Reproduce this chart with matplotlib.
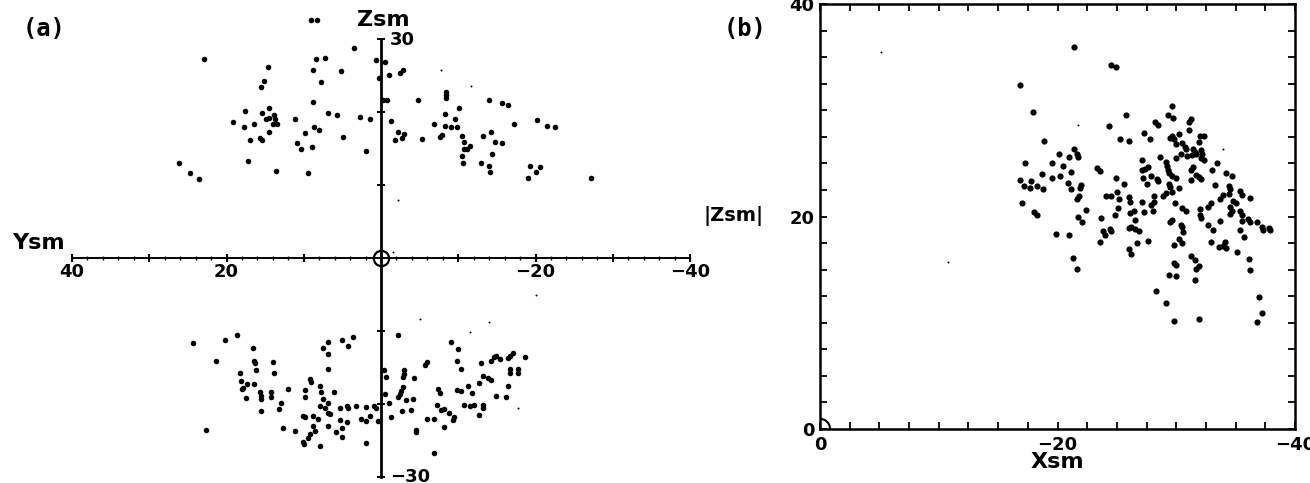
import numpy as np
import matplotlib
matplotlib.use('Agg')
import matplotlib.pyplot as plt
from matplotlib.patches import Ellipse

# ---- panel (a): Ysm / Zsm cross-section ----
upper_y = [22.9, 14.6, 15.1, 15.5, 8.4, 7.3, 8.8, 7.8, 5.2, 3.5, 0.7, -0.5, 0.3, -1.0, 8.8,
           17.6, 15.4, 14.5, 13.8, 13.7, 14.9, 14.5, 14.0, 13.5, 19.2, 17.7, 16.4, 14.5, 17.0,
           15.7, 15.4, 11.1, 6.9, 5.7, 2.7, 1.4, 8.7, 8.0, 9.8, 10.9, 10.3, 8.9, 4.9, 1.9, 26.1,
           24.7, 23.5, 17.2, 13.6, 9.5, 9.1, 8.3,
           -2.4, -2.9, -0.2, -0.8, -4.8, -8.4, -8.4, -8.4, -10.1, -14.0, -15.7, -16.4, -1.3,
           -8.3, -9.6, -6.9, -8.3, -9.0, -9.8, -2.2, -3.0, -2.7, -1.8, -5.3, -7.6, -7.9, -10.5,
           -10.8, -10.8, -11.1, -11.5, -13.2, -14.3, -14.8, -15.6, -14.4, -10.5, -10.6, -13.0,
           -14.0, -14.1, -17.2, -20.2, -21.5, -22.5, -19.3, -20.6, -20.0, -19.0, -27.2]
upper_z = [27.2, 26.1, 24.3, 23.4, 27.2, 27.4, 25.8, 24.1, 25.6, 28.8, 27.1, 26.9, 24.6, 25.0, 21.4,
           20.2, 19.8, 20.6, 19.6, 19.0, 19.0, 19.2, 18.3, 18.3, 18.6, 17.9, 18.3, 17.2, 16.2,
           16.5, 16.2, 19.1, 19.9, 19.6, 19.3, 19.0, 17.9, 17.6, 17.1, 15.8, 15.0, 15.2, 16.6, 14.7, 13.0,
           11.7, 10.8, 13.3, 11.9, 11.6, 32.6, 32.6,
           25.4, 25.8, 21.7, 21.6, 21.7, 22.8, 22.3, 21.9, 20.6, 21.7, 21.3, 21.0, 18.8,
           19.7, 19.0, 18.4, 18.1, 18.0, 17.9, 17.3, 17.0, 16.5, 16.2, 16.3, 16.6, 16.9, 16.7,
           15.9, 15.0, 14.9, 15.3, 16.7, 17.2, 15.9, 15.8, 14.3, 14.0, 13.0, 13.0,
           12.6, 11.8, 18.4, 18.9, 18.1, 17.9, 12.6, 12.4, 11.8, 10.9, 11.0]

lower_y = [24.4, 20.2, 18.6, 16.6, 21.3, 16.5, 16.3, 14.0, 16.2, 13.8, 18.3, 18.1, 17.4, 18.0, 17.8,
           16.4, 15.7, 15.5, 15.5, 14.3, 14.2, 17.5, 15.5, 13.0, 13.2, 12.0, 9.2, 9.0, 9.8, 9.8,
           7.9, 7.8, 7.5, 6.1, 7.5, 6.8, 6.8, 5.1, 3.6, 4.3, 6.8, 7.9, 7.3, 6.9, 6.9, 6.6, 5.3,
           4.4, 4.3, 3.2, 1.9, 0.9, 0.6, 10.1, 9.9, 8.8, 8.2, 5.3, 4.4, 2.6, 2.0, 1.4, 8.8, 6.9,
           5.0, 5.8, 5.1, 8.5, 9.2, 9.5, 10.1, 10.0, 7.9, 11.1, 12.7, 22.7, 1.9, 0.4, -0.4, -0.6,
           -0.5, -1.1, -1.3,
           -2.2, -3.0, -3.0, -2.8, -4.3, -5.7, -6.0, -9.1, -10.0, -9.9, -10.4, -13.0, -14.6,
           -14.9, -15.4, -14.3, -16.7, -17.1, -16.5, -18.7, -16.7, -16.7, -17.7, -17.7, -13.2,
           -13.9, -14.2, -12.7, -16.5, -16.2, -14.9, -2.8, -2.6, -2.4, -2.2, -3.3, -4.1, -2.7,
           -3.9, -4.5, -4.5, -5.9, -6.9, -7.4, -7.6, -7.3, -7.8, -8.1, -8.8, -8.1, -9.3, -9.5,
           -9.8, -10.3, -11.2, -11.8, -10.7, -11.5, -12.0, -13.2, -13.2, -12.7, -6.8]
lower_z = [-11.6, -11.2, -10.6, -12.3, -14.1, -14.1, -14.4, -14.3, -15.3, -15.8, -15.8, -16.9, -17.3, -18.0, -17.8,
           -17.3, -18.3, -18.9, -19.3, -18.3, -19.0, -19.2, -21.0, -19.9, -20.7, -18.0, -16.6, -17.0, -18.1, -19.1,
           -17.6, -18.4, -19.3, -18.3, -12.3, -11.5, -13.2, -11.2, -10.8, -12.1, -15.2, -20.3, -20.6, -19.9, -21.2, -21.4, -20.5,
           -20.3, -20.5, -20.3, -20.4, -20.3, -20.5, -21.6, -21.8, -21.7, -22.0, -22.2, -22.4, -22.0, -22.3, -21.7, -23.0, -23.0,
           -23.3, -23.8, -24.5, -23.7, -24.1, -24.6, -25.2, -25.5, -25.8, -23.7, -23.3, -23.5, -25.4, -22.3, -15.4, -16.3,
           -18.6, -19.8, -21.8,
           -10.6, -15.4, -15.9, -16.3, -16.4, -14.7, -14.3, -11.5, -12.5, -14.1, -15.2, -14.4, -13.6,
           -13.4, -13.9, -14.1, -13.4, -13.0, -13.7, -13.6, -15.2, -15.8, -15.2, -15.7, -16.2,
           -16.5, -16.7, -17.1, -17.5, -19.0, -18.9, -17.7, -18.2, -18.6, -19.1, -19.4, -19.3, -20.9,
           -20.8, -23.6, -23.9, -22.1, -22.1, -18.0, -18.5, -20.2, -20.8, -20.7, -21.3, -23.2, -22.2, -21.8,
           -18.1, -18.2, -17.6, -18.5, -20.1, -20.3, -20.2, -20.2, -20.6, -21.5, -26.7]

# faint specks in panel (a)
faint_a_y = [-7.8, -11.6, -2.2, -5.0, -14.0, -11.5, -20.0, -17.7, -1.6]
faint_a_z = [25.7, 23.6, 7.9, -8.4, -8.8, -10.2, -5.1, -20.5, 0.8]

# ---- panel (b): Xsm / |Zsm| ----
b_x = [-16.8, -17.9, -18.9, -20.1, -21.4, -21.6, -21.7, -21.0, -17.3, -19.5, -20.5, -21.1, -18.7, -19.5,
       -20.2, -16.8, -17.2, -17.8, -17.7, -18.3, -18.8, -20.9, -21.1, -21.8,
       -17.0, -18.0, -18.3, -21.7, -21.6, -19.9, -21.0, -21.3, -21.6,
       -24.5, -24.9, -25.8, -24.3, -29.6, -29.3, -29.7, -28.2, -28.5, -31.2, -31.1, -27.3, -27.8,
       -25.3, -26.0, -29.6, -29.5, -29.8, -30.2, -31.1, -32.0, -32.3, -30.0, -30.5, -30.7, -30.8,
       -31.9, -31.4, -31.6, -31.7, -31.3, -30.9, -32.1, -32.2, -32.1, -32.3, -28.6, -30.0, -30.4,
       -27.1, -29.1, -29.2, -27.6, -27.4, -27.1, -23.3, -23.6, -29.3, -29.4, -29.6, -31.4, -31.2,
       -30.0, -31.7, -31.9, -32.1, -31.2, -27.9, -27.2, -28.4, -28.5, -24.9, -25.6, -27.5, -29.4,
       -29.5, -30.2, -22.0, -21.9, -25.0, -24.1, -24.5, -26.0, -28.1, -29.1, -28.9, -29.6,
       -25.2, -26.1, -27.1, -28.1, -27.9, -29.9, -30.5, -30.8, -32.0, -32.0, -32.1, -22.4, -22.1,
       -25.1, -24.8, -23.7, -26.1, -26.4, -27.3, -28.0, -26.5, -29.6, -29.5, -30.4, -30.5, -30.6,
       -26.0, -26.2, -26.5, -26.9, -24.4, -24.5, -23.8, -24.0, -23.6, -26.7, -27.6, -30.2, -30.5,
       -29.8, -26.0, -26.2, -31.2, -31.6, -29.8, -30.0, -31.7, -31.9, -29.4, -30.0, -31.6, -28.3,
       -29.1, -29.8, -31.9,
       -33.0, -33.4, -34.2, -34.7, -34.4, -34.5, -34.4, -33.7, -33.9, -35.4, -35.5, -34.8, -35.0,
       -36.2, -34.5, -34.7, -34.5, -35.4, -35.5, -35.5, -36.0, -36.2, -36.8, -37.2, -37.3, -37.8,
       -37.9, -35.4, -35.7, -33.7, -32.7, -32.9, -34.2, -35.1, -36.1, -36.2, -37.0, -37.2, -36.8,
       -33.6, -33.9, -34.1, -32.9, -33.1, -33.3, -32.7, -21.4]
b_z = [32.4, 29.8, 27.1, 25.9, 26.4, 25.9, 25.6, 25.6, 25.0, 25.0, 24.8, 24.2, 24.0, 23.6,
       23.8, 23.4, 22.9, 23.3, 22.7, 22.9, 22.6, 23.2, 22.6, 21.9,
       21.3, 20.4, 20.1, 20.0, 21.6, 18.4, 18.3, 16.1, 15.1,
       34.3, 34.1, 29.6, 28.5, 30.4, 29.6, 29.3, 28.9, 28.6, 29.2, 28.9, 27.9, 27.3,
       27.3, 27.1, 27.6, 27.4, 27.3, 27.8, 28.1, 27.6, 27.6, 26.8, 26.9, 26.5, 26.4,
       27.0, 26.4, 26.1, 25.9, 25.8, 25.7, 26.3, 25.9, 25.5, 25.3, 25.6, 25.5, 25.9,
       25.3, 25.1, 24.8, 24.7, 24.5, 24.4, 24.6, 24.3, 24.4, 24.1, 23.8, 24.7, 24.4,
       23.6, 23.9, 23.7, 23.5, 23.4, 23.8, 23.6, 23.5, 23.3, 23.6, 23.1, 23.1, 23.1,
       22.8, 22.7, 23.0, 22.7, 22.3, 21.9, 21.9, 21.8, 21.9, 22.2, 21.9, 22.3,
       21.6, 21.4, 21.4, 21.4, 21.1, 21.3, 20.8, 20.5, 20.7, 20.1, 19.9, 20.6, 19.5,
       20.8, 20.1, 19.9, 20.3, 20.5, 20.4, 20.5, 19.7, 19.7, 19.5, 19.2, 19.0, 18.5,
       18.9, 19.0, 18.8, 18.6, 18.8, 18.6, 18.6, 18.3, 17.6, 17.5, 17.7, 17.9, 17.5,
       17.3, 16.9, 16.5, 16.3, 15.9, 15.6, 15.4, 15.1, 15.3, 14.5, 14.4, 14.0, 13.0,
       11.9, 10.2, 10.4,
       24.4, 25.0, 24.1, 23.8, 22.9, 22.6, 22.1, 21.6, 22.0, 22.4, 22.0, 21.5, 21.3,
       21.7, 20.9, 20.5, 20.2, 20.5, 20.1, 19.6, 19.8, 19.5, 19.5, 19.0, 18.7, 18.9,
       18.7, 18.7, 18.1, 19.6, 20.9, 21.3, 17.0, 16.7, 16.0, 15.0, 12.4, 10.9, 10.1,
       17.1, 17.2, 17.6, 17.6, 18.7, 23.0, 19.2, 36.0]

faint_b_x = [-5.1, -21.7, -10.8, -33.9]
faint_b_z = [35.5, 28.6, 15.7, 26.4]


def draw_panel_a(fig):
    # axes box spans the drawn Ysm (40..-40) and Zsm (-30..30) axis lines
    ax = fig.add_axes([72 / 1310, 6 / 483, 618 / 1310, 438 / 483])
    ax.set_xlim(40, -40)
    ax.set_ylim(-30, 30)
    ax.axis('off')

    # cross-shaped axes
    ax.plot([40, -40], [0, 0], color='black', lw=1.4, clip_on=False)
    ax.plot([0, 0], [-30, 30], color='black', lw=2.0, clip_on=False)

    # tick marks on the Ysm axis (every 2, bigger every 10)
    minor = np.arange(-40, 41, 2)
    major = np.arange(-40, 41, 10)
    ax.plot(minor, np.zeros_like(minor), ls='none', marker='|', ms=3.5, mew=1.0,
            color='black', clip_on=False)
    ax.plot(major, np.zeros_like(major), ls='none', marker='|', ms=6, mew=1.4,
            color='black', clip_on=False)
    # tick marks on the Zsm axis
    zt = np.array([-30, -20, -10, 10, 20, 30])
    ax.plot(np.zeros_like(zt), zt, ls='none', marker='_', ms=6, mew=1.4,
            color='black', clip_on=False)

    # origin marker (circle with the cross through it)
    ax.plot([0], [0], marker='o', ms=11, mfc='none', mec='black', mew=1.6)

    # data
    ax.scatter(upper_y, upper_z, s=16, color='black', linewidths=0, clip_on=False, zorder=3)
    ax.scatter(lower_y, lower_z, s=16, color='black', linewidths=0, clip_on=False, zorder=3)
    ax.scatter(faint_a_y, faint_a_z, s=2, color='black', linewidths=0, zorder=3)

    # labels
    lab = dict(fontweight='bold', color='black', clip_on=False)
    ax.text(-0.3, 32.6, 'Zsm', fontsize=16, ha='center', va='center', **lab)
    ax.text(-1.2, 29.9, '30', fontsize=13, ha='left', va='center', **lab)
    ax.text(-1.2, -30.0, '\u221230', fontsize=13, ha='left', va='center', **lab)
    ax.text(44.3, 2.0, 'Ysm', fontsize=16, ha='center', va='center', **lab)
    for val, txt in zip([40, 20, -20, -40], ['40', '20', '\u221220', '\u221240']):
        ax.text(val, -1.9, txt, fontsize=13, ha='center', va='center', **lab)


def draw_panel_b(fig):
    ax = fig.add_axes([820 / 1310, 54 / 483, 475 / 1310, 425 / 483])
    ax.set_xlim(0, -40)
    ax.set_ylim(0, 40)
    for sp in ax.spines.values():
        sp.set_linewidth(1.8)

    ax.set_xticks([0, -20, -40])
    ax.set_xticklabels(['0', '\u221220', '\u221240'])
    ax.set_yticks([0, 20, 40])
    ax.set_yticklabels(['0', '20', '40'])
    ax.set_xticks(np.arange(0, -40.1, -2.5), minor=True)
    ax.set_yticks(np.arange(0, 40.1, 2.5), minor=True)
    ax.tick_params(which='both', direction='in', top=True, right=True,
                   length=5, width=1.3)
    ax.tick_params(axis='x', which='major', pad=5, labelsize=13)
    ax.tick_params(axis='y', which='major', pad=4, labelsize=13)
    for t in ax.get_xticklabels() + ax.get_yticklabels():
        t.set_fontweight('bold')

    # Earth at the origin
    ax.add_patch(Ellipse((0, 0), 1.7, 1.9, fill=False, lw=1.5, color='black'))

    ax.scatter(b_x, b_z, s=20, color='black', linewidths=0, zorder=3)
    ax.scatter(faint_b_x, faint_b_z, s=2, color='black', linewidths=0, zorder=3)

    ax.text(-20, -3.1, 'Xsm', fontsize=16, fontweight='bold', ha='center', va='center',
            clip_on=False)
    ax.text(7.3, 20.0, '|Zsm|', fontsize=14, fontweight='bold', ha='center', va='center',
            clip_on=False)


def main():
    fig = plt.figure(figsize=(13.1, 4.83), dpi=100)
    fig.patch.set_facecolor('white')

    draw_panel_a(fig)
    draw_panel_b(fig)

    # panel tags
    fig.text(44 / 1310, 1 - 29 / 483, '(a)', fontsize=17, fontweight='bold',
             family='DejaVu Sans Mono', ha='center', va='center')
    fig.text(745 / 1310, 1 - 29 / 483, '(b)', fontsize=17, fontweight='bold',
             family='DejaVu Sans Mono', ha='center', va='center')

    fig.savefig('out.png', dpi=100)


if __name__ == "__main__":
    main()
